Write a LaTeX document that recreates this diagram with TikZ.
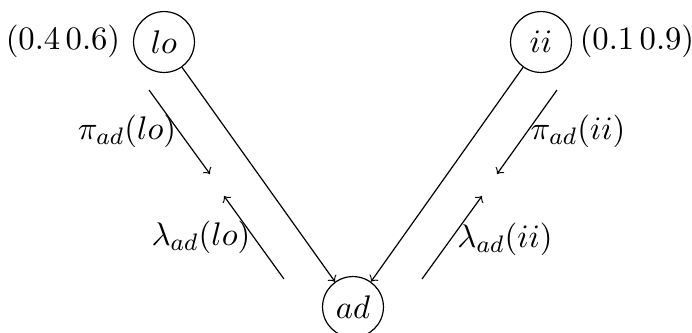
\documentclass[tikz,border=0pt,11pt]{standalone}
\begin{document}
\begin{tikzpicture}[x=0.335pt,y=-0.335pt,
  var/.style={draw,circle,minimum size=20.4pt,inner sep=0pt},
  msg/.style={->},
  lbl/.style={inner sep=0pt}]
\useasboundingbox (0,0) rectangle (692,332);
\node[var] (lo) at (164,42) {$lo$};
\node[var] (ii) at (541,42) {$ii$};
\node[var] (ad) at (353,307) {$ad$};
\draw[->] (lo) -- (ad);
\draw[->] (ii) -- (ad);
\node[lbl] (plo) at (63,41.5) {$(0.4\,0.6)$};
\node[lbl] (pii) at (637,41.5) {$(0.1\,0.9)$};
\coordinate (a1) at (149,90);
\coordinate (a2) at (210,174);
\coordinate (b1) at (284,279);
\coordinate (b2) at (224,196);
\coordinate (c1) at (557,90);
\coordinate (c2) at (497,174);
\coordinate (d1) at (422,279);
\coordinate (d2) at (482,196);
\draw[msg] (a1) -- (a2);
\draw[msg] (b1) -- (b2);
\draw[msg] (c1) -- (c2);
\draw[msg] (d1) -- (d2);
\node[lbl] (l1) at (127,131) {$\pi_{ad}(lo)$};
\node[lbl] (l2) at (201,237) {$\lambda_{ad}(lo)$};
\node[lbl] (l3) at (578,131) {$\pi_{ad}(ii)$};
\node[lbl] (l4) at (505,239) {$\lambda_{ad}(ii)$};
\end{tikzpicture}
\end{document}
